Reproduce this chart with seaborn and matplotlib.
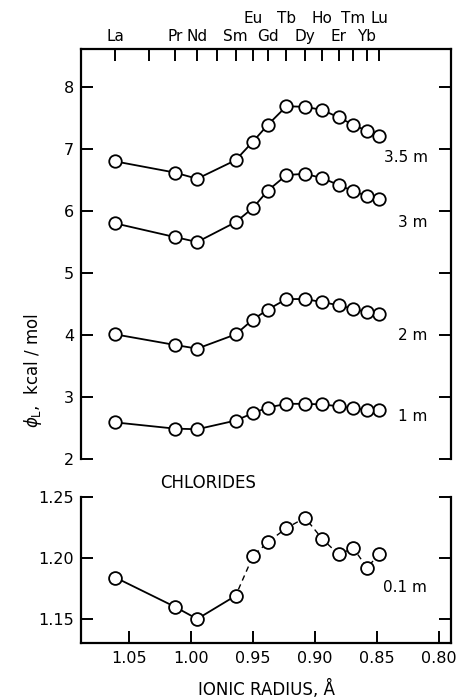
import numpy as np
import pandas as pd
import matplotlib
matplotlib.use("Agg")
import matplotlib.pyplot as plt
import matplotlib.transforms as mtransforms
import seaborn as sns

# ---------------- data ----------------
elements = ["La", "Pr", "Nd", "Sm", "Eu", "Gd", "Tb", "Dy", "Ho", "Er", "Tm", "Yb", "Lu"]
radius = [1.061, 1.013, 0.995, 0.964, 0.950, 0.938, 0.923, 0.908, 0.894, 0.881, 0.869, 0.858, 0.848]

phi_35 = [6.80, 6.62, 6.52, 6.82, 7.12, 7.39, 7.69, 7.68, 7.63, 7.51, 7.39, 7.29, 7.21]
phi_3 = [5.80, 5.58, 5.50, 5.82, 6.05, 6.33, 6.58, 6.60, 6.53, 6.42, 6.32, 6.24, 6.19]
phi_2 = [4.01, 3.84, 3.78, 4.01, 4.25, 4.41, 4.58, 4.58, 4.53, 4.48, 4.42, 4.37, 4.34]
phi_1 = [2.59, 2.49, 2.48, 2.62, 2.74, 2.83, 2.89, 2.89, 2.88, 2.85, 2.82, 2.79, 2.79]
phi_01 = [1.184, 1.160, 1.150, 1.169, 1.2015, 1.213, 1.2245, 1.233, 1.2155, 1.203, 1.208, 1.192, 1.2035]

conc_labels = ["3.5 m", "3 m", "2 m", "1 m"]
conc_label_y = [6.87, 5.82, 4.00, 2.68]
low_label = "0.1 m"
low_label_y = 1.1755

# top axis: all lanthanide ticks (Ce, Pm unlabeled)
top_tick_r = [1.061, 1.034, 1.013, 0.995, 0.979, 0.964, 0.950, 0.938, 0.923, 0.908, 0.894, 0.881, 0.869, 0.858, 0.848]
top_tick_lab = ["La", "", "Pr", "Nd", "", "Sm", "Eu", "Gd", "Tb", "Dy", "Ho", "Er", "Tm", "Yb", "Lu"]
top_tick_row = [0, 0, 0, 0, 0, 0, 1, 0, 1, 0, 1, 0, 1, 0, 1]

top_yticks = [2, 3, 4, 5, 6, 7, 8]
low_yticks = [1.15, 1.20, 1.25]
xticks = [1.05, 1.00, 0.95, 0.90, 0.85, 0.80]

# ---------------- style ----------------
sns.set_style("white")
plt.rcParams["font.family"] = ["DejaVu Sans"]
plt.rcParams["mathtext.fontset"] = "dejavusans"
for k in ["text.color", "axes.labelcolor", "xtick.color", "ytick.color",
          "xtick.labelcolor", "ytick.labelcolor", "axes.edgecolor"]:
    plt.rcParams[k] = "black"

fig = plt.figure(figsize=(4.58, 6.98), dpi=100)
ax1 = fig.add_axes([81 / 458, 1 - 459 / 698, 370 / 458, 410 / 698])
ax2 = fig.add_axes([81 / 458, 1 - 643 / 698, 370 / 458, 146 / 698])

XL = (1.0887, 0.7903)
mk_kw = dict(marker="o", markersize=9, markerfacecolor="white",
             markeredgecolor="black", markeredgewidth=1.3)

# ---------------- top panel ----------------
rows = []
for lab, vals in zip(conc_labels, [phi_35, phi_3, phi_2, phi_1]):
    for r, v in zip(radius, vals):
        rows.append({"r": r, "phi": v, "conc": lab})
df = pd.DataFrame(rows)
sns.lineplot(data=df, x="r", y="phi", hue="conc", palette=["black"] * 4,
             estimator=None, legend=False, ax=ax1, linewidth=1.3, **mk_kw)

for lab, yy in zip(conc_labels, conc_label_y):
    ax1.text(0.809, yy, lab, ha="right", va="center", fontsize=11, color="black")

ax1.set_xlim(*XL)
ax1.set_ylim(2, 8.613)
ax1.set_yticks(top_yticks)
ax1.set_yticklabels([str(t) for t in top_yticks])
ax1.set_xticks(top_tick_r)
ax1.set_xticklabels([])
ax1.tick_params(axis="x", direction="in", length=8.5, width=1.4, color="black",
                bottom=False, top=True, labelbottom=False, labeltop=False)
ax1.tick_params(axis="y", direction="in", length=8.5, width=1.4, color="black",
                labelcolor="black", left=True, right=True, labelsize=11.5, pad=5)
for s in ["left", "right", "top"]:
    ax1.spines[s].set_linewidth(1.6)
    ax1.spines[s].set_color("black")
ax1.spines["bottom"].set_visible(False)
ax1.set_xlabel("")
ax1.set_ylabel("")

trans_top = mtransforms.blended_transform_factory(ax1.transData, ax1.transAxes)
for r, lab, row in zip(top_tick_r, top_tick_lab, top_tick_row):
    if lab:
        yy = 1 + (5 if row == 0 else 23) / 410
        ax1.text(r, yy, lab, ha="center", va="bottom", fontsize=11,
                 color="black", transform=trans_top)

# ---------------- bottom panel ----------------
df_low = pd.DataFrame({"r": radius, "phi": phi_01, "el": elements})
sns.lineplot(data=df_low.iloc[:4], x="r", y="phi", estimator=None, ax=ax2,
             color="black", linewidth=1.3)
sns.lineplot(data=df_low.iloc[3:], x="r", y="phi", estimator=None, ax=ax2,
             color="black", linewidth=1.0, dashes=False, linestyle=(0, (4, 3)))
sns.scatterplot(data=df_low, x="r", y="phi", ax=ax2, s=85, facecolor="white",
                edgecolor="black", linewidth=1.3, zorder=5)

ax2.text(0.8097, low_label_y, low_label, ha="right", va="center", fontsize=11,
         color="black")

ax2.set_xlim(*XL)
ax2.set_ylim(1.1303, 1.25)
ax2.set_yticks(low_yticks)
ax2.set_yticklabels([f"{t:.2f}" for t in low_yticks])
ax2.set_xticks(xticks)
ax2.set_xticklabels([f"{t:.2f}" for t in xticks])
ax2.tick_params(axis="both", direction="in", length=8.5, width=1.4,
                color="black", labelcolor="black", labelsize=11.5, pad=6)
ax2.tick_params(axis="y", left=True, right=True, pad=5)
ax2.tick_params(axis="x", bottom=True, top=False)
for s in ["left", "right", "bottom"]:
    ax2.spines[s].set_linewidth(1.6)
    ax2.spines[s].set_color("black")
ax2.spines["top"].set_visible(False)
ax2.set_ylabel("")
ax2.set_xlabel("IONIC RADIUS, Å", fontsize=12, labelpad=10, color="black")

trans_low = mtransforms.blended_transform_factory(ax2.transData, ax2.transAxes)
ax2.text(0.986, 1 + 14 / 146, "CHLORIDES", ha="center", va="center",
         fontsize=12, color="black", transform=trans_low)

fig.text(33 / 458, 1 - 370 / 698, r"$\phi_{\mathrm{L}}$,  kcal / mol",
         rotation=90, ha="center", va="center", fontsize=12, color="black")

fig.savefig("out.png", dpi=100)
